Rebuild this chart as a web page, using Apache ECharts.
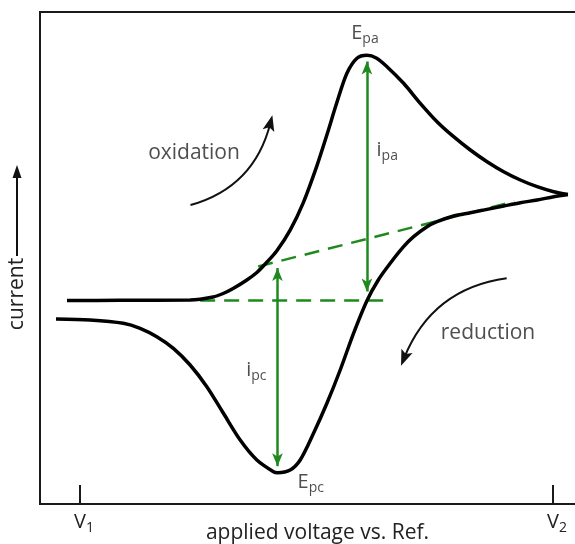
<!DOCTYPE html>
<html>
<head>
<meta charset="utf-8">
<script src="https://cdn.jsdelivr.net/npm/echarts@6/dist/echarts.min.js"></script>
<style>
html,body{margin:0;padding:0;background:#fff;}
#chart{width:575px;height:544px;}
</style>
</head>
<body>
<div id="chart"></div>
<script>
// ---- data (normalised potential: V1 = 0, V2 = 1; current in arbitrary units, baseline = 0) ----
const tickValues = [0, 1];
const tickNames = ['V', 'V'];
const tickSubs = ['1', '2'];

// forward (oxidation) scan V1 -> V2
const forwardPotential = [-0.0275, 0.0846, 0.2328, 0.2814, 0.3026, 0.3237, 0.3527, 0.3739, 0.3935, 0.4162, 0.4443, 0.4719, 0.5008, 0.5220, 0.5432, 0.5643, 0.5855, 0.6066, 0.6263, 0.6490, 0.6841, 0.7194, 0.7548, 0.7899, 0.8252, 0.8606, 0.8957, 0.9310, 0.9664, 1.0015, 1.0315];
const forwardCurrent   = [0.0, 0.002, 0.005, 0.035, 0.07, 0.12, 0.205, 0.28, 0.375, 0.498, 0.704, 0.977, 1.347, 1.657, 1.982, 2.272, 2.422, 2.452, 2.425, 2.338, 2.172, 1.972, 1.788, 1.638, 1.505, 1.388, 1.288, 1.205, 1.138, 1.088, 1.06];

// reverse (reduction) scan V2 -> V1
const reversePotential = [1.0315, 1.0015, 0.9664, 0.9310, 0.8957, 0.8252, 0.7899, 0.7548, 0.7336, 0.7053, 0.6841, 0.6559, 0.6306, 0.6066, 0.5783, 0.5501, 0.5220, 0.4937, 0.4655, 0.4443, 0.4175, 0.4090, 0.3739, 0.3386, 0.3032, 0.2681, 0.2328, 0.1974, 0.1623, 0.1270, 0.0916, 0.0212, -0.0508];
const reverseCurrent   = [1.06, 1.038, 1.005, 0.978, 0.945, 0.878, 0.845, 0.788, 0.738, 0.638, 0.538, 0.372, 0.205, -0.002, -0.328, -0.695, -1.028, -1.328, -1.595, -1.695, -1.722, -1.712, -1.595, -1.395, -1.128, -0.862, -0.645, -0.478, -0.362, -0.278, -0.228, -0.195, -0.185];

// green baselines
const anodicBaselineX = [0.254, 0.652];
const anodicBaselineY = [0, 0];
const cathodicBaselineX = [0.3766, 0.9183];
const cathodicBaselineY = [0.34, 0.99];

// peak-current arrows [x, yStart, yEnd] (ends pulled in by half an arrowhead)
const ipaArrow = [0.6066, 0.09, 2.39];
const ipcArrow = [0.4175, 0.325, -1.657];

// scan-direction arrows [x1, y1, x2, y2]
const oxidationArrow = [0.2336, 0.955, 0.4025, 1.776];
const reductionArrow = [0.9021, 0.222, 0.6850, -0.578];

// annotation labels
const labelText = ['E', 'i', 'i', 'E', 'oxidation', 'reduction'];
const labelSub  = ['pa', 'pa', 'pc', 'pc', '', ''];
const labelX    = [0.6025, 0.6496, 0.3727, 0.4878, 0.241, 0.8626];
const labelY    = [2.675, 1.505, -0.695, -1.815, 1.475, -0.325];

// ---- chart ----
const GREEN = '#1e8a1e';
const TXT = '#222';
const FONT = "'Open Sans', 'Noto Sans', sans-serif";
const ARROW_PATH = 'path://M5,0 L10,14 L5,11 L0,14 Z';

const zip = (xs, ys) => xs.map((x, i) => [x, ys[i]]);

const richLab = {
  m: { fontSize: 20, lineHeight: 20, verticalAlign: 'top', color: TXT, fontFamily: FONT },
  s: { fontSize: 14, lineHeight: 14, verticalAlign: 'top', padding: [9, 0, 0, 0], color: TXT, fontFamily: FONT },
  g: { fontSize: 14, lineHeight: 14, verticalAlign: 'top', padding: [9, 0, 0, 0], color: 'rgba(0,0,0,0)', fontFamily: FONT },
  w: { fontSize: 21, lineHeight: 22, color: TXT, fontFamily: FONT }
};

const chart = echarts.init(document.getElementById('chart'), null, { renderer: 'canvas' });

const option = {
  animation: false,
  backgroundColor: '#fff',
  grid: {
    left: 40, top: 12, right: -20, bottom: 40,
    containLabel: false, outerBoundsMode: 'none',
    show: true, borderColor: '#1a1a1a', borderWidth: 2, backgroundColor: 'transparent'
  },
  xAxis: {
    type: 'value', min: -0.0846, max: 1.0888,
    name: 'applied voltage vs. Ref.', nameLocation: 'middle', nameGap: 19, nameMoveOverlap: false,
    nameTextStyle: { fontSize: 21, color: TXT, fontFamily: FONT },
    axisLine: { show: false, onZero: false },
    splitLine: { show: false },
    axisTick: { show: true, inside: true, length: 19, customValues: tickValues, lineStyle: { color: '#1a1a1a', width: 2 } },
    axisLabel: {
      show: true, margin: 8, customValues: tickValues,
      formatter: v => { const i = tickValues.indexOf(v); return i < 0 ? '' : '{g|' + tickSubs[i] + '}{m|' + tickNames[i] + '}{s|' + tickSubs[i] + '}'; },
      rich: richLab
    }
  },
  yAxis: {
    type: 'value', min: -2.035, max: 2.885,
    name: 'current', nameLocation: 'middle', nameGap: 12, nameRotate: 90, nameMoveOverlap: false,
    nameTextStyle: { fontSize: 21, color: TXT, fontFamily: FONT, padding: [0, 72, 0, 0] },
    axisLine: { show: false, onZero: false }, axisTick: { show: false }, axisLabel: { show: false }, splitLine: { show: false }
  },
  graphic: [
    { type: 'line', shape: { x1: 17, y1: 256, x2: 17, y2: 176 }, style: { stroke: '#111', lineWidth: 2 } },
    { type: 'polygon', shape: { points: [[17, 165], [12.5, 178], [21.5, 178]] }, style: { fill: '#111' } }
  ],
  series: [
    {
      type: 'line', name: 'anodic baseline', data: zip(anodicBaselineX, anodicBaselineY), showSymbol: false, silent: true,
      lineStyle: { color: GREEN, width: 2.5, type: [15, 9] }, z: 3
    },
    {
      type: 'line', name: 'cathodic baseline', data: zip(cathodicBaselineX, cathodicBaselineY), showSymbol: false, silent: true,
      lineStyle: { color: GREEN, width: 2.5, type: [15, 9] }, z: 3
    },
    {
      type: 'line', name: 'forward scan', data: zip(forwardPotential, forwardCurrent), smooth: 0.3, showSymbol: false, silent: true,
      lineStyle: { color: '#000', width: 3.5 }, z: 4
    },
    {
      type: 'line', name: 'reverse scan', data: zip(reversePotential, reverseCurrent), smooth: 0.3, showSymbol: false, silent: true,
      lineStyle: { color: '#000', width: 3.5 }, z: 4,
      markLine: {
        silent: true, animation: false, symbol: ['arrow', 'arrow'], symbolSize: [8, 13],
        label: { show: false },
        lineStyle: { color: GREEN, width: 2.5, type: 'solid' },
        data: [
          [{ coord: [ipaArrow[0], ipaArrow[1]] }, { coord: [ipaArrow[0], ipaArrow[2]] }],
          [{ coord: [ipcArrow[0], ipcArrow[1]] }, { coord: [ipcArrow[0], ipcArrow[2]] }]
        ]
      }
    },
    {
      type: 'lines', name: 'scan direction', coordinateSystem: 'cartesian2d', silent: true, z: 4,
      symbol: ['none', ARROW_PATH], symbolSize: [0, [12, 16]],
      lineStyle: { color: '#111', width: 2, opacity: 1, curveness: -0.29 },
      effect: { show: false },
      data: [
        { coords: [[oxidationArrow[0], oxidationArrow[1]], [oxidationArrow[2], oxidationArrow[3]]] },
        { coords: [[reductionArrow[0], reductionArrow[1]], [reductionArrow[2], reductionArrow[3]]] }
      ]
    },
    {
      type: 'scatter', name: 'labels', symbolSize: 0, silent: true, z: 5,
      data: labelX.map((x, i) => ({
        value: [x, labelY[i]],
        label: {
          show: true, position: 'inside',
          formatter: labelSub[i] ? '{m|' + labelText[i] + '}{s|' + labelSub[i] + '}' : '{w|' + labelText[i] + '}',
          rich: richLab
        }
      }))
    }
  ]
};
chart.setOption(option);
</script>
</body>
</html>
